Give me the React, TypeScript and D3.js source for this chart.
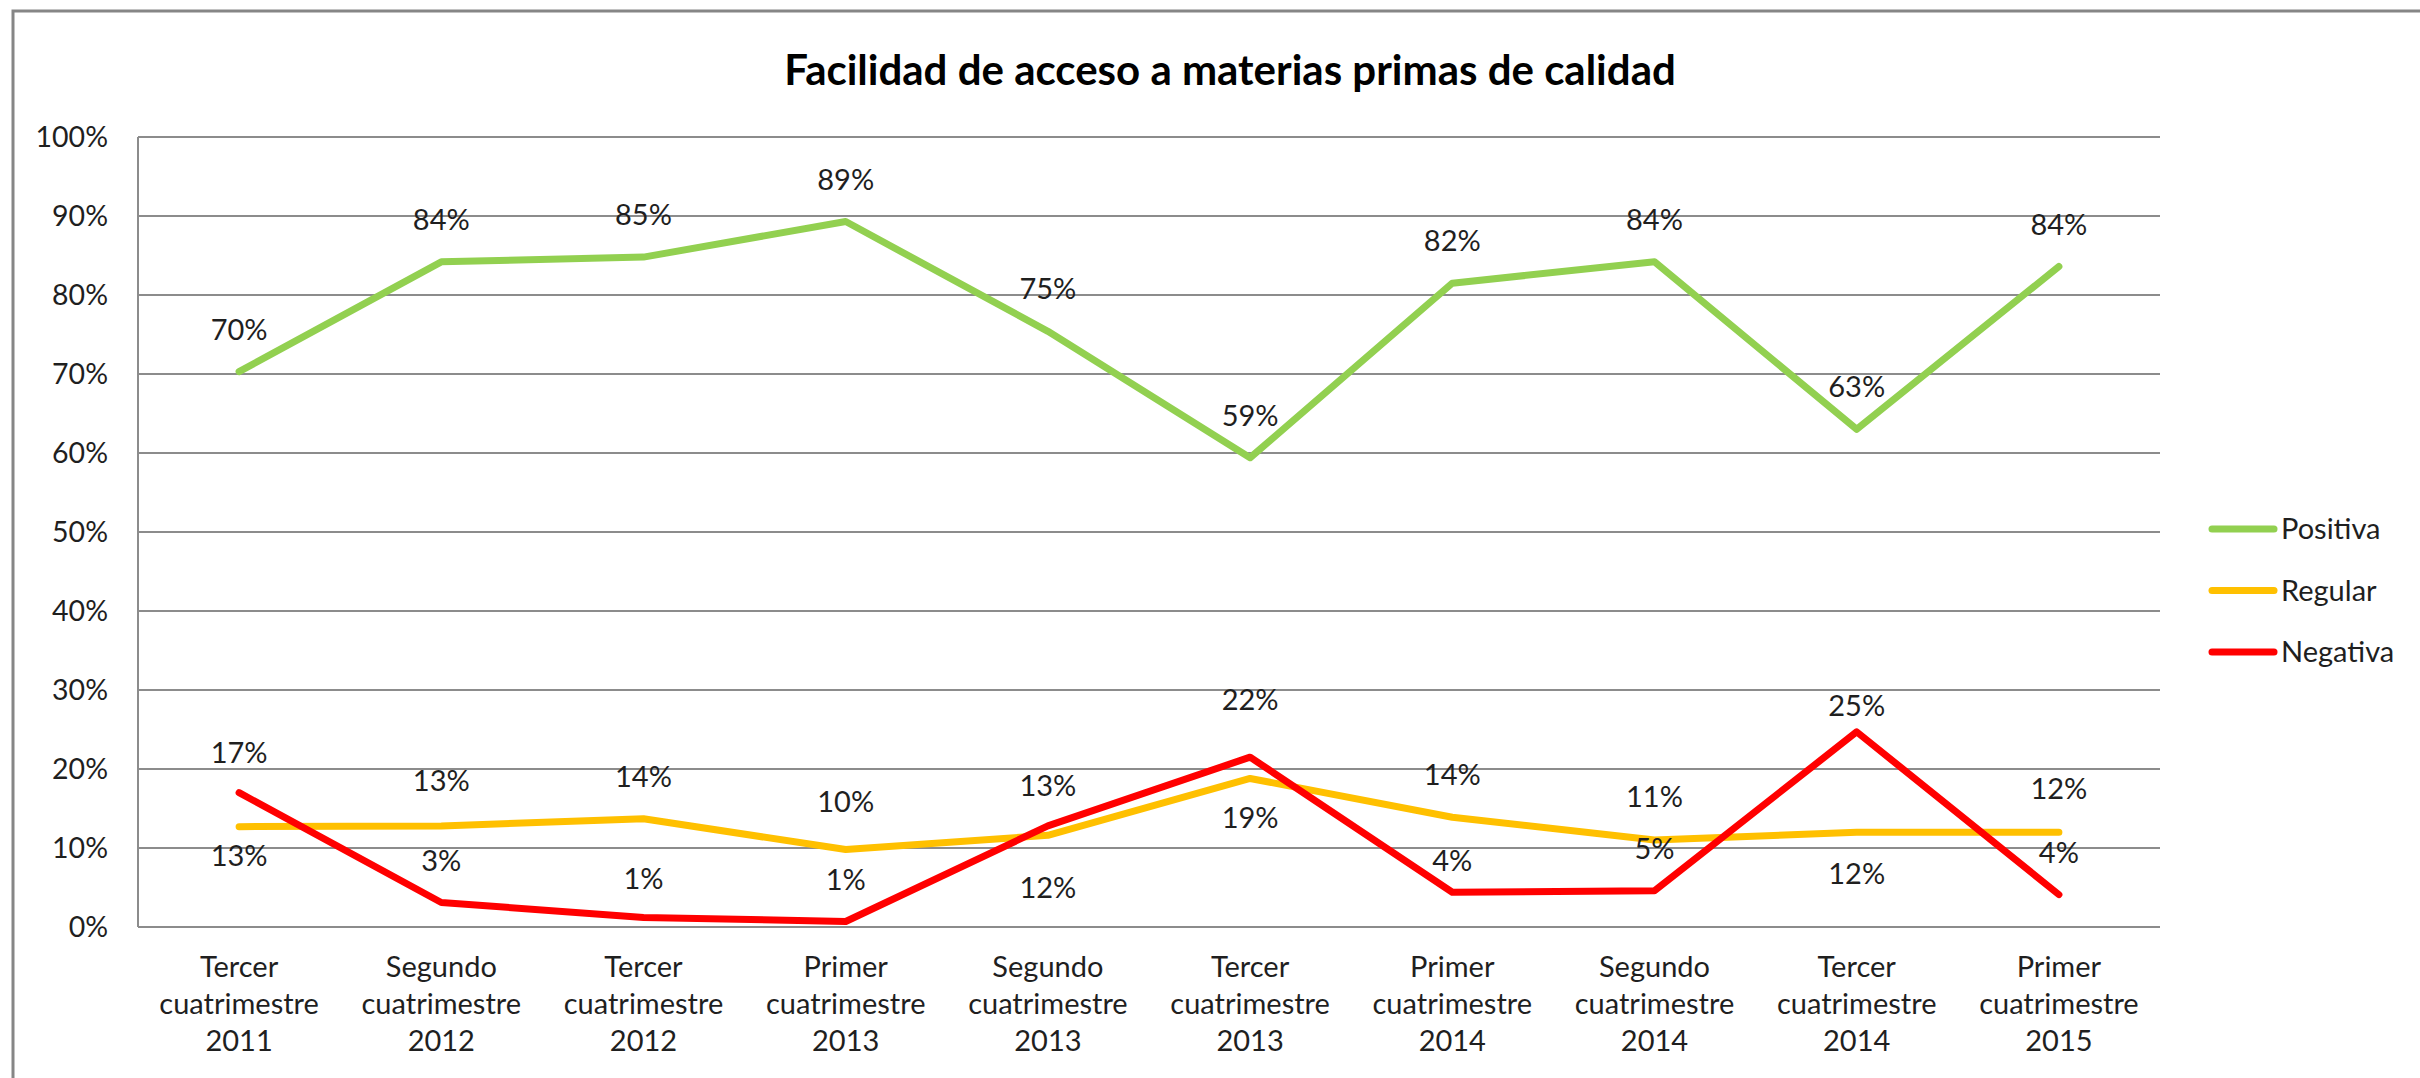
import React, { useEffect } from "react";
import * as d3 from "d3";

const categories: string[][] = [
  ["Tercer", "cuatrimestre", "2011"],
  ["Segundo", "cuatrimestre", "2012"],
  ["Tercer", "cuatrimestre", "2012"],
  ["Primer", "cuatrimestre", "2013"],
  ["Segundo", "cuatrimestre", "2013"],
  ["Tercer", "cuatrimestre", "2013"],
  ["Primer", "cuatrimestre", "2014"],
  ["Segundo", "cuatrimestre", "2014"],
  ["Tercer", "cuatrimestre", "2014"],
  ["Primer", "cuatrimestre", "2015"],
];

const positiva = [0.703, 0.842, 0.848, 0.893, 0.754, 0.594, 0.815, 0.842, 0.63, 0.836];
const regular = [0.127, 0.128, 0.137, 0.098, 0.116, 0.188, 0.139, 0.11, 0.12, 0.12];
const negativa = [0.17, 0.031, 0.012, 0.007, 0.128, 0.215, 0.044, 0.046, 0.247, 0.041];

// label vertical offsets (px) relative to each point
const positivaLabelDy = [-42, -42, -42, -42, -42, -42, -42, -42, -42, -42];
const regularLabelDy = [29, -45, -42, -48, 52, 39, -42, -43, 42, -43];
const negativaLabelDy = [-40, -42, -39, -42, -40, -57, -31, -42, -26, -42];

const yTicks = [0, 0.1, 0.2, 0.3, 0.4, 0.5, 0.6, 0.7, 0.8, 0.9, 1.0];

const seriesNames = ["Positiva", "Regular", "Negativa"];
const seriesColors = ["#92D050", "#FFC000", "#FF0000"];

const W = 2420;
const H = 1078;
const FONT = "Lato, Calibri, 'Open Sans', sans-serif";

export default function App() {
  useEffect(() => {
    document.body.style.margin = "0";
    document.body.style.overflow = "hidden";
  }, []);

  const x = d3.scaleBand<number>().domain(d3.range(categories.length)).range([138, 2160]).padding(0);
  const cx = (i: number) => (x(i) as number) + x.bandwidth() / 2;
  const y = d3.scaleLinear().domain([0, 1]).range([927, 137]);
  const fmt = d3.format(".0%");

  const series = [
    { name: seriesNames[0], values: positiva, dy: positivaLabelDy, color: seriesColors[0] },
    { name: seriesNames[1], values: regular, dy: regularLabelDy, color: seriesColors[1] },
    { name: seriesNames[2], values: negativa, dy: negativaLabelDy, color: seriesColors[2] },
  ];

  const line = d3
    .line<number>()
    .x((_, i) => cx(i))
    .y((d) => y(d));

  return (
    <svg width={W} height={H} style={{ display: "block", background: "#fff" }} fontFamily={FONT}>
      <rect x={0} y={0} width={W} height={H} fill="#fff" />
      {/* outer chart border */}
      <rect x={13} y={11} width={W + 20} height={H + 20} fill="none" stroke="#868686" strokeWidth={3} />

      <text x={1230} y={85} textAnchor="middle" fontSize={42} fontWeight="bold" fill="#000">
        Facilidad de acceso a materias primas de calidad
      </text>

      {/* gridlines */}
      {yTicks.map((t) => (
        <line key={t} x1={138} x2={2160} y1={y(t)} y2={y(t)} stroke="#8c8c8c" strokeWidth={2} />
      ))}
      <line x1={138} x2={138} y1={y(1)} y2={y(0)} stroke="#8c8c8c" strokeWidth={2} />

      {/* y tick labels */}
      {yTicks.map((t) => (
        <text key={t} x={108} y={y(t)} dy="0.35em" textAnchor="end" fontSize={28.5} fill="#1f1f1f">
          {fmt(t)}
        </text>
      ))}

      {/* x labels */}
      {categories.map((c, i) => (
        <text key={i} x={cx(i)} y={977} textAnchor="middle" fontSize={29} fill="#1f1f1f">
          {c.map((s, j) => (
            <tspan key={j} x={cx(i)} dy={j === 0 ? 0 : 37}>
              {s}
            </tspan>
          ))}
        </text>
      ))}

      {/* lines */}
      {series.map((s) => (
        <path
          key={s.name}
          d={line(s.values) as string}
          fill="none"
          stroke={s.color}
          strokeWidth={7}
          strokeLinejoin="round"
          strokeLinecap="round"
        />
      ))}

      {/* data labels */}
      {series.map((s) =>
        s.values.map((v, i) => (
          <text
            key={s.name + i}
            x={cx(i)}
            y={y(v) + s.dy[i]}
            dy="0.35em"
            textAnchor="middle"
            fontSize={29}
            fill="#1f1f1f"
          >
            {fmt(v)}
          </text>
        ))
      )}

      {/* legend */}
      {series.map((s, i) => {
        const ly = 529 + i * 61.5;
        return (
          <g key={s.name}>
            <line x1={2212} x2={2274} y1={ly} y2={ly} stroke={s.color} strokeWidth={7} strokeLinecap="round" />
            <text x={2281} y={ly} dy="0.35em" fontSize={29} fill="#1f1f1f">
              {s.name}
            </text>
          </g>
        );
      })}
    </svg>
  );
}
